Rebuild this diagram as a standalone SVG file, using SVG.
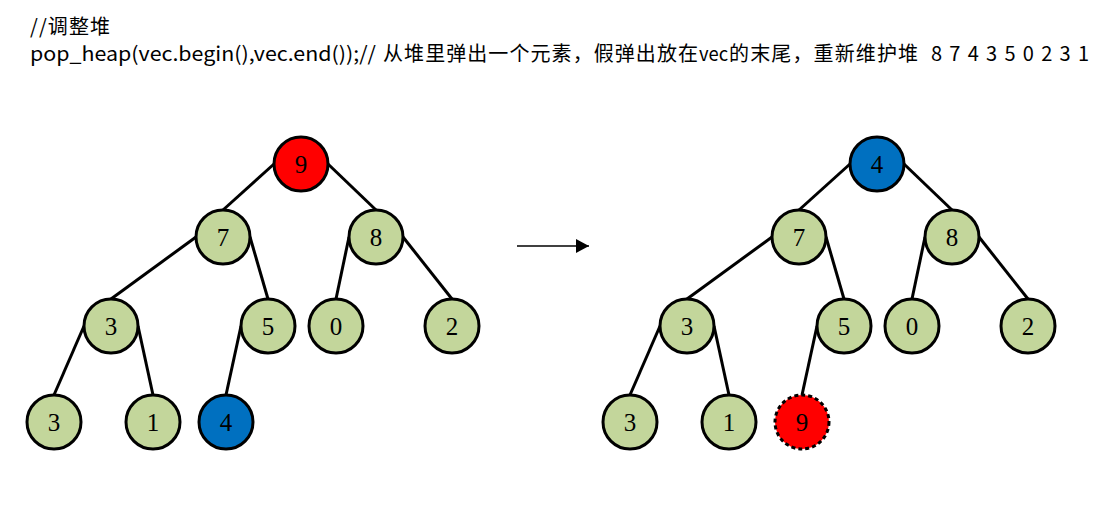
<svg xmlns="http://www.w3.org/2000/svg" width="1111" height="505" viewBox="0 0 1111 505">
<style>
.t{font-family:"Noto Sans CJK SC","Liberation Sans",sans-serif;font-size:20px;fill:#000}
.n circle{stroke:#000;stroke-width:3}
.g{fill:#C3D69B}.r{fill:#FF0000}.b{fill:#0070C0}
.d{stroke-dasharray:4 3}
.n text{font-family:"Liberation Serif",serif;font-size:25px;text-anchor:middle;fill:#000}
.e line{stroke:#000;stroke-width:3}
</style>
<defs><marker id="ah" markerWidth="13" markerHeight="14" refX="13" refY="7" orient="auto" markerUnits="userSpaceOnUse"><path d="M0,0 L13,7 L0,14 z" fill="#000"/></marker></defs>
<rect width="1111" height="505" fill="#fff"/>
<text class="t" x="30" y="34" textLength="80" lengthAdjust="spacing">//调整堆</text>
<text class="t" x="30" y="61" textLength="346" lengthAdjust="spacingAndGlyphs">pop_heap(vec.begin(),vec.end());//</text>
<text class="t" x="383" y="61" textLength="315" lengthAdjust="spacing">从堆里弹出一个元素，假弹出放在</text>
<text class="t" x="699" y="61" textLength="29" lengthAdjust="spacingAndGlyphs">vec</text>
<text class="t" x="729" y="61" textLength="189" lengthAdjust="spacing">的末尾，重新维护堆</text>
<text class="t" x="931" y="61" textLength="158" lengthAdjust="spacing">8 7 4 3 5 0 2 3 1</text>
<g id="connectors" class="e">
<line x1="274" y1="164" x2="223" y2="210"/>
<line x1="328" y1="164" x2="376" y2="210"/>
<line x1="196" y1="237" x2="111" y2="299"/>
<line x1="250" y1="237" x2="268" y2="299"/>
<line x1="349" y1="237" x2="336" y2="299"/>
<line x1="403" y1="237" x2="452" y2="299"/>
<line x1="84" y1="326" x2="54" y2="395"/>
<line x1="138" y1="326" x2="153" y2="395"/>
<line x1="241" y1="326" x2="226" y2="395"/>
<line x1="850" y1="164" x2="799" y2="210"/>
<line x1="904" y1="164" x2="952" y2="210"/>
<line x1="772" y1="237" x2="687" y2="299"/>
<line x1="826" y1="237" x2="844" y2="299"/>
<line x1="925" y1="237" x2="912" y2="299"/>
<line x1="979" y1="237" x2="1028" y2="299"/>
<line x1="660" y1="326" x2="630" y2="395"/>
<line x1="714" y1="326" x2="729" y2="395"/>
<line x1="817" y1="326" x2="802" y2="395"/>
<line x1="517" y1="246" x2="589" y2="246" style="stroke-width:1.5" marker-end="url(#ah)"/>
</g>
<g id="L9" class="n"><circle class="r" cx="301" cy="164" r="27"/><text x="301" y="172.5">9</text></g>
<g id="L7" class="n"><circle class="g" cx="223" cy="237" r="27"/><text x="223" y="245.5">7</text></g>
<g id="L8" class="n"><circle class="g" cx="376" cy="237" r="27"/><text x="376" y="245.5">8</text></g>
<g id="L3a" class="n"><circle class="g" cx="111" cy="326" r="27"/><text x="111" y="334.5">3</text></g>
<g id="L5" class="n"><circle class="g" cx="268" cy="326" r="27"/><text x="268" y="334.5">5</text></g>
<g id="L0" class="n"><circle class="g" cx="336" cy="326" r="27"/><text x="336" y="334.5">0</text></g>
<g id="L2" class="n"><circle class="g" cx="452" cy="326" r="27"/><text x="452" y="334.5">2</text></g>
<g id="L3b" class="n"><circle class="g" cx="54" cy="422" r="27"/><text x="54" y="430.5">3</text></g>
<g id="L1" class="n"><circle class="g" cx="153" cy="422" r="27"/><text x="153" y="430.5">1</text></g>
<g id="L4" class="n"><circle class="b" cx="226" cy="422" r="27"/><text x="226" y="430.5">4</text></g>
<g id="R4" class="n"><circle class="b" cx="877" cy="164" r="27"/><text x="877" y="172.5">4</text></g>
<g id="R7" class="n"><circle class="g" cx="799" cy="237" r="27"/><text x="799" y="245.5">7</text></g>
<g id="R8" class="n"><circle class="g" cx="952" cy="237" r="27"/><text x="952" y="245.5">8</text></g>
<g id="R3a" class="n"><circle class="g" cx="687" cy="326" r="27"/><text x="687" y="334.5">3</text></g>
<g id="R5" class="n"><circle class="g" cx="844" cy="326" r="27"/><text x="844" y="334.5">5</text></g>
<g id="R0" class="n"><circle class="g" cx="912" cy="326" r="27"/><text x="912" y="334.5">0</text></g>
<g id="R2" class="n"><circle class="g" cx="1028" cy="326" r="27"/><text x="1028" y="334.5">2</text></g>
<g id="R3b" class="n"><circle class="g" cx="630" cy="422" r="27"/><text x="630" y="430.5">3</text></g>
<g id="R1" class="n"><circle class="g" cx="729" cy="422" r="27"/><text x="729" y="430.5">1</text></g>
<g id="R9" class="n"><circle class="r d" cx="802" cy="422" r="27"/><text x="802" y="430.5">9</text></g>
</svg>
